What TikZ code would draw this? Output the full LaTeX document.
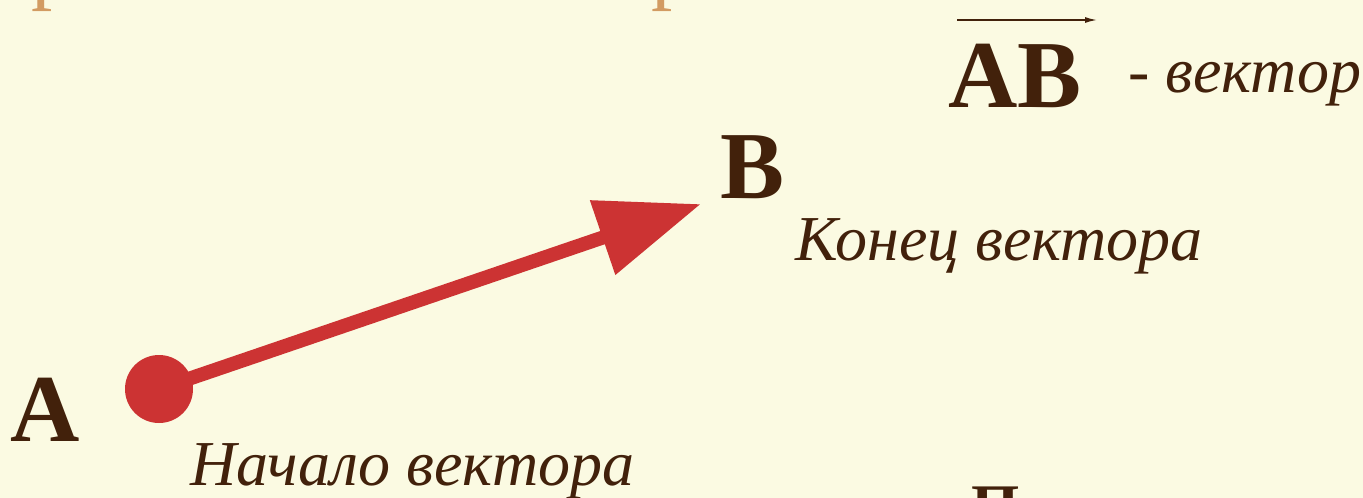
\documentclass[tikz,border=0pt]{standalone}
\usepackage{fontspec}
\setmainfont{Liberation Serif}
\usetikzlibrary{arrows.meta}
\definecolor{bgcol}{HTML}{FBFAE2}
\definecolor{txtcol}{HTML}{42210B}
\definecolor{redcol}{HTML}{CC3333}
\definecolor{titlecol}{HTML}{D29B62}
\tikzset{
  pointlbl/.style={inner sep=0pt, anchor=base west, text=txtcol, font=\fontsize{96}{96}\selectfont\bfseries},
  desclbl/.style={inner sep=0pt, anchor=base west, text=txtcol, font=\fontsize{64}{64}\selectfont\itshape},
  vecline/.style={draw=redcol, line width=14pt, -{Triangle[length=104pt,width=75pt]}},
  dotstyle/.style={circle, fill=redcol, inner sep=0pt, minimum size=68pt},
}
\begin{document}
\begin{tikzpicture}[x=1pt,y=-1pt]
\useasboundingbox (0,0) rectangle (1363,498);
\clip (0,0) rectangle (1363,498);
\fill[bgcol] (0,0) rectangle (1363,498);
% cut-off title and bottom text
\node[inner sep=0pt, anchor=base west, text=titlecol, font=\fontsize{85}{85}\selectfont] (t1) at (31,-7) {р};
\node[inner sep=0pt, anchor=base west, text=titlecol, font=\fontsize{85}{85}\selectfont] (t2) at (651,-7) {р};
\node[inner sep=0pt, anchor=base west, text=txtcol, font=\fontsize{62}{62}\selectfont\bfseries] (bot) at (971,527) {П};
% points
\node[pointlbl] (A) at (10,441) {A};
\node[pointlbl] (B) at (720,198) {B};
\node[dotstyle] (dot) at (159,389) {};
\coordinate (tip) at (701,204);
\draw[vecline] (dot.center) -- (tip);
% labels
\node[desclbl] (start) at (190,485) {Начало вектора};
\node[desclbl] (end) at (795,260) {Конец вектора};
% AB vector notation
\node[pointlbl] (AB) at (948,107) {AB};
\node[desclbl] (vec) at (1128,92) {- вектор};
\coordinate (ar1) at (957,20);
\coordinate (ar2) at (1097,20);
\draw[txtcol, line width=1.5pt, -{Latex[length=12pt,width=6pt]}] (ar1) -- (ar2);
\end{tikzpicture}
\end{document}
